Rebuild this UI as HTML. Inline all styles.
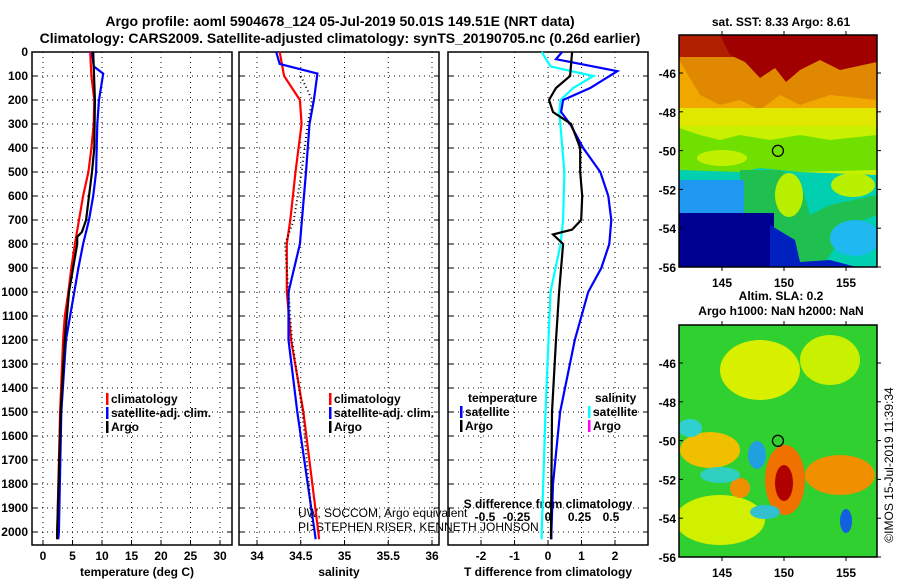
<!DOCTYPE html>
<html><head><meta charset="utf-8">
<style>
body{margin:0;background:#fff;}
svg text{font-family:"Liberation Sans",sans-serif;font-weight:bold;}
</style></head>
<body>
<svg id="c" width="900" height="580" xmlns="http://www.w3.org/2000/svg">
<rect width="900" height="580" fill="#fff"/>
<text x="340" y="26" font-size="14" text-anchor="middle">Argo profile: aoml 5904678_124 05-Jul-2019 50.01S 149.51E (NRT data)</text>
<text x="340" y="43" font-size="14" text-anchor="middle">Climatology: CARS2009. Satellite-adjusted climatology: synTS_20190705.nc (0.26d earlier)</text>
<g id="maps"></g>
<g id="plots"></g>
</svg>
<script>
// ---- data ----
const depthTicks=[0,100,200,300,400,500,600,700,800,900,1000,1100,1200,1300,1400,1500,1600,1700,1800,1900,2000];
const tTicks=[0,5,10,15,20,25,30];
const sTicks=[34,34.5,35,35.5,36];
const dtTicks=[-2,-1,0,1,2];
const dsTicks=[-0.5,-0.25,0,0.25,0.5];
const tClimDepth=[0,100,200,300,400,500,600,700,800,900,1000,1100,1200,1500,2000,2030];
const tClim=[8.0,8.2,8.7,8.6,8.2,7.7,6.8,6.1,5.4,4.8,4.3,3.7,3.4,2.9,2.4,2.4];
const tSatDepth=[0,60,90,200,300,500,600,700,800,900,1000,1100,1200,1500,2000,2030];
const tSat=[8.3,8.6,10.2,9.5,9.2,9.0,8.5,7.8,6.8,6.0,5.3,4.6,3.9,3.1,2.7,2.6];
const tArgoDepth=[0,200,400,500,600,700,750,770,800,900,1000,1200,1500,2000,2030];
const tArgo=[8.5,8.8,8.7,8.3,7.8,7.3,6.6,5.8,5.8,5.1,4.4,3.7,3.0,2.4,2.4];
const sClimDepth=[0,100,200,300,500,700,800,1000,1200,1500,2000,2030];
const sClim=[34.26,34.31,34.49,34.51,34.44,34.38,34.34,34.34,34.39,34.53,34.70,34.71];
const sSatDepth=[0,50,90,200,300,500,800,1000,1200,1500,2000,2030];
const sSat=[34.22,34.26,34.69,34.65,34.6,34.56,34.49,34.36,34.36,34.46,34.66,34.67];
const sArgoDepth=[100,200,300,500,700,800,1000,1200,1500,2000];
const sArgo=[34.5,34.63,34.58,34.51,34.42,34.32,34.36,34.4,34.52,34.64];
const dtSatDepth=[0,30,80,150,200,250,300,400,500,600,700,800,900,1000,1200,1500,1800,2000,2030];
const dtSat=[0.42,0.24,2.07,1.26,0.45,0.39,0.66,1.05,1.56,1.8,1.89,1.83,1.59,1.2,0.8,0.36,0.15,0.1,0.1];
const dtArgoDepth=[0,100,150,200,250,300,400,500,600,700,740,760,800,900,1000,1200,1500,2000,2030];
const dtArgo=[0.72,0.66,0.24,0.03,0.15,0.69,0.96,0.96,1.02,0.99,0.72,0.15,0.45,0.39,0.33,0.24,0.12,0.09,0.09];
const dsSatDepth=[0,60,100,150,200,250,500,700,800,1000,1500,2000,2030];
const dsSat=[-0.05,0.02,0.36,0.2,0.1,0.09,0.13,0.12,0.1,0.02,-0.02,-0.05,-0.05];

const NS="http://www.w3.org/2000/svg";
const root=document.getElementById('plots');
function mk(tag,at,parent){const e=document.createElementNS(NS,tag);for(const k in at)e.setAttribute(k,at[k]);(parent||root).appendChild(e);return e;}
const Y0=52,Y1=545;
const yD=d=>Y0+d*0.24;
function lin(d0,d1,p0,p1){return v=>p0+(v-d0)*(p1-p0)/(d1-d0);}
const xT=lin(0,30,43,220), xS=lin(34,36,257,432), xDT=lin(0,2,548,615), xDS=lin(0,0.5,548,611);
const panels=[[32,232],[239,439],[448,648]];
panels.forEach((p,i)=>{
  const g=mk('g',{});
  
  
  const vt=[tTicks.map(xT),sTicks.map(xS),dtTicks.map(xDT)][i];
  depthTicks.forEach(d=>{if(d>0){mk('line',{x1:p[0],x2:p[1],y1:yD(d),y2:yD(d),stroke:'#000','stroke-dasharray':'1,4','stroke-width':1},g);}
    mk('line',{x1:p[0],x2:p[0]+5,y1:yD(d),y2:yD(d),stroke:'#000'},g);mk('line',{x1:p[1]-5,x2:p[1],y1:yD(d),y2:yD(d),stroke:'#000'},g);});
  vt.forEach(x=>{mk('line',{x1:x,x2:x,y1:Y0,y2:Y1,stroke:'#000','stroke-dasharray':'1,4'},g);mk('line',{x1:x,x2:x,y1:Y1-5,y2:Y1,stroke:'#000'},g);});
  const r=mk('rect',{x:p[0],y:Y0,width:p[1]-p[0],height:Y1-Y0,fill:'none',stroke:'#000','stroke-width':1.5},g);
  
  
});
depthTicks.forEach(d=>{const t=mk('text',{x:28,y:yD(d)+4,'font-size':12,'text-anchor':'end'});t.textContent=d;
  
  });
function ticks(arr,f,y,fmt){arr.forEach(v=>{const t=mk('text',{x:f(v),y:y,'font-size':12,'text-anchor':'middle'});t.textContent=fmt?fmt(v):v;
  
  });}
ticks(tTicks,xT,560);ticks(sTicks,xS,560);ticks(dtTicks,xDT,560);
ticks(dsTicks,xDS,521);
function lab(x,y,s,name,sz,anchor){const t=mk('text',{x:x,y:y,'font-size':sz||12,'text-anchor':anchor||'middle'});t.textContent=s;
  
  return t;}
lab(137,576,'temperature (deg C)','x-axis-title-temperature');
lab(339,576,'salinity','x-axis-title-salinity');
lab(548,576,'T difference from climatology','x-axis-title-tdiff');
lab(548,508,'S difference from climatology','x-axis-title-sdiff');
const c1=lab(298,517,'UW, SOCCOM, Argo equivalent','credit-line-1',12,'start');c1.style.fontWeight='normal';
const c2=lab(298,531,'PI: STEPHEN RISER, KENNETH JOHNSON','credit-line-2',12,'start');c2.style.fontWeight='normal';
function line(vals,deps,f,col,name,w){
  const pts=vals.map((v,i)=>f(v).toFixed(1)+','+yD(deps[i]).toFixed(1)).join(' ');
  const p=mk('polyline',{points:pts,fill:'none',stroke:col,'stroke-width':w||2.2});
  
  
}
line(tClim,tClimDepth,xT,'#f00','temp-climatology-line');
line(tSat,tSatDepth,xT,'#00f','temp-satellite-line');
line(tArgo,tArgoDepth,xT,'#000','temp-argo-line');
line(sClim,sClimDepth,xS,'#f00','sal-climatology-line');
line(sSat,sSatDepth,xS,'#00f','sal-satellite-line');
const sa=sArgo.map((v,i)=>xS(v).toFixed(1)+','+yD(sArgoDepth[i]).toFixed(1)).join(' ');
const sap=mk('polyline',{points:sa,fill:'none',stroke:'#000','stroke-width':2,'stroke-dasharray':'1,3'});


line(dsSat,dsSatDepth,xDS,'#0ff','sdiff-satellite-line');
line(dtSat,dtSatDepth,xDT,'#00f','tdiff-satellite-line');
line(dtArgo,dtArgoDepth,xDT,'#000','tdiff-argo-line');
function leg(x,y,col,s,name){const r=mk('rect',{x:x,y:y-10,width:2.5,height:12,fill:col});
  
  
  lab(x+5,y,s,name,12,'start');}
leg(106,403,'#f00','climatology','legend-t-climatology');
leg(106,417,'#00f','satellite-adj. clim.','legend-t-satellite');
leg(106,431,'#000','Argo','legend-t-argo');
leg(329,403,'#f00','climatology','legend-s-climatology');
leg(329,417,'#00f','satellite-adj. clim.','legend-s-satellite');
leg(329,431,'#000','Argo','legend-s-argo');
lab(468,402,'temperature','legend-temperature-header',12,'start');
lab(595,402,'salinity','legend-salinity-header',12,'start');
leg(460,416,'#00f','satellite','legend-dt-satellite');
leg(460,430,'#000','Argo','legend-dt-argo');
leg(588,416,'#0ff','satellite','legend-ds-satellite');
leg(588,430,'#f0f','Argo','legend-ds-argo');

// ---- maps ----
const mroot=document.getElementById('maps');
const latTicks=[-46,-48,-50,-52,-54,-56];
const lonTicks=[145,150,155];
function drawMap(top,bot,shapes,name){
  const L=679,R=877;
  const xL=lin(145,155,722,846), yL=lin(-46,-56,top+38,bot);
  const g=mk('g',{},mroot);
  
  
  const cp=mk('clipPath',{id:name+'c'},g);mk('rect',{x:L,y:top,width:R-L,height:bot-top},cp);
  const gg=mk('g',{'clip-path':'url(#'+name+'c)'},g);
  shapes.forEach(s=>{mk(s[0],s[1],gg);});
  mk('rect',{x:L,y:top,width:R-L,height:bot-top,fill:'none',stroke:'#000','stroke-width':1.5},g);
  latTicks.forEach(v=>{const y=yL(v);mk('line',{x1:R,x2:R+4,y1:y,y2:y,stroke:'#000'},g);mk('line',{x1:L,x2:L+4,y1:y,y2:y,stroke:'#000'},g);
    const t=mk('text',{x:L-3,y:y+5,'font-size':12,'text-anchor':'end'},g);t.textContent=v;
    
    });
  lonTicks.forEach(v=>{const x=xL(v);mk('line',{x1:x,x2:x,y1:top-4,y2:top,stroke:'#000'},g);mk('line',{x1:x,x2:x,y1:bot,y2:bot+4,stroke:'#000'},g);
    const t=mk('text',{x:x,y:bot+20,'font-size':12,'text-anchor':'middle'},g);t.textContent=v;
    
    });
  const c=mk('circle',{cx:xL(149.51),cy:yL(-50.01),r:5.5,fill:'none',stroke:'#000','stroke-width':1.3},g);
  
  
}
drawMap(35,267,[
 ['rect',{x:679,y:35,width:200,height:240,fill:'#c8f000'}],
 ['rect',{x:679,y:35,width:200,height:80,fill:'#f0a800'}],
 ['polygon',{points:'679,60 700,95 720,105 740,100 760,110 780,95 800,105 830,95 877,100 877,35 679,35',fill:'#e08800'}],
 ['rect',{x:679,y:35,width:200,height:22,fill:'#b02000'}],
 ['polygon',{points:'720,35 877,35 877,62 840,70 820,60 800,70 786,82 775,68 760,78 745,62 730,55',fill:'#a00000'}],
 ['rect',{x:679,y:108,width:200,height:18,fill:'#e0e800'}],
 ['polygon',{points:'679,160 679,128 700,135 720,140 740,135 770,140 800,135 830,140 877,135 877,170 679,175',fill:'#70e000'}],
 ['polygon',{points:'679,170 740,172 760,168 800,172 877,175 877,280 679,280',fill:'#00d0b0'}],
 ['polygon',{points:'740,170 780,170 800,180 810,215 830,205 877,195 877,215 850,225 820,270 760,270 740,220',fill:'#20c050'}],
 ['ellipse',{cx:789,cy:195,rx:14,ry:22,fill:'#b8f000'}],
 ['ellipse',{cx:853,cy:185,rx:22,ry:12,fill:'#b8f000'}],
 ['ellipse',{cx:722,cy:158,rx:25,ry:8,fill:'#c0f000'}],
 ['rect',{x:679,y:180,width:65,height:42,fill:'#2098f0'}],
 ['rect',{x:679,y:213,width:95,height:60,fill:'#000090'}],
 ['polygon',{points:'770,225 795,240 800,262 830,260 860,268 860,280 770,280',fill:'#0020c0'}],
 ['ellipse',{cx:855,cy:238,rx:25,ry:18,fill:'#20b8f0'}]
],'sst-map');
drawMap(325,557,[
 ['rect',{x:679,y:325,width:200,height:240,fill:'#30d030'}],
 ['ellipse',{cx:760,cy:370,rx:40,ry:30,fill:'#d8f000'}],
 ['ellipse',{cx:830,cy:360,rx:30,ry:25,fill:'#c8f000'}],
 ['ellipse',{cx:720,cy:520,rx:45,ry:25,fill:'#d0f000'}],
 ['ellipse',{cx:710,cy:450,rx:30,ry:18,fill:'#f0c000'}],
 ['ellipse',{cx:840,cy:475,rx:35,ry:20,fill:'#f09000'}],
 ['ellipse',{cx:785,cy:480,rx:20,ry:35,fill:'#f07000'}],
 ['ellipse',{cx:784,cy:483,rx:9,ry:18,fill:'#b00000'}],
 ['ellipse',{cx:740,cy:488,rx:10,ry:10,fill:'#f09000'}],
 ['ellipse',{cx:757,cy:455,rx:9,ry:14,fill:'#20a0e0'}],
 ['ellipse',{cx:720,cy:475,rx:20,ry:8,fill:'#30d0c0'}],
 ['ellipse',{cx:690,cy:428,rx:12,ry:9,fill:'#30d0d0'}],
 ['ellipse',{cx:846,cy:521,rx:6,ry:12,fill:'#1060e0'}],
 ['ellipse',{cx:765,cy:512,rx:15,ry:7,fill:'#30c0d0'}]
],'sla-map');
const mt=[['sat. SST: 8.33 Argo: 8.61',781,26,'sst-map-title'],['Altim. SLA: 0.2',781,300,'sla-map-title-1'],['Argo h1000: NaN h2000: NaN',781,315,'sla-map-title-2']];
mt.forEach(a=>{const t=mk('text',{x:a[1],y:a[2],'font-size':12,'text-anchor':'middle'},mroot);t.textContent=a[0];
  
  });
const ts=mk('text',{x:893,y:465,'font-size':12,'text-anchor':'middle',transform:'rotate(-90 893 465)'},mroot);
ts.textContent='©IMOS 15-Jul-2019 11:39:34';ts.style.fontWeight='normal';


</script>
</body></html>
